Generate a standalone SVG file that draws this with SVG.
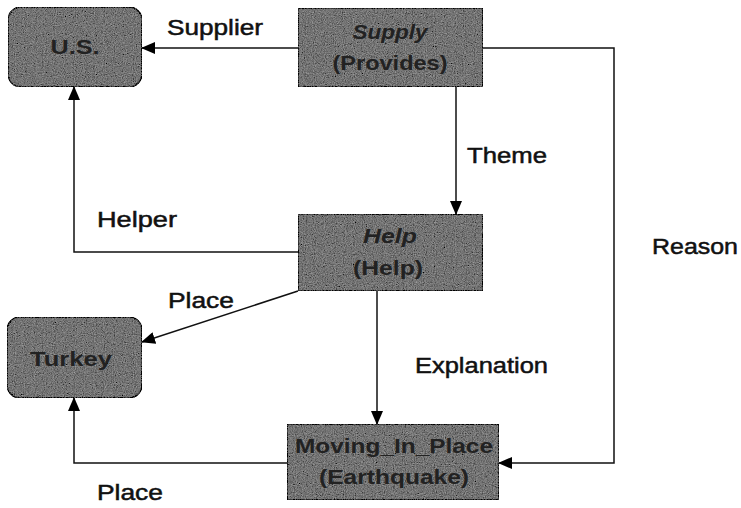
<svg xmlns="http://www.w3.org/2000/svg" width="741" height="508" viewBox="0 0 741 508">
<defs>
<marker id="arr" markerUnits="userSpaceOnUse" markerWidth="14" markerHeight="12" refX="13" refY="6" orient="auto">
<path d="M0,0 L14,6 L0,12 Z" fill="#000"/>
</marker>
<filter id="grain" x="0" y="0" width="100%" height="100%">
<feTurbulence type="fractalNoise" baseFrequency="0.9" numOctaves="2" seed="3" result="n"/>
<feColorMatrix in="n" type="matrix" values="0.33 0.33 0.33 0 0 0.33 0.33 0.33 0 0 0.33 0.33 0.33 0 0 0 0 0 0 1" result="g"/>
<feComposite in="SourceGraphic" in2="g" operator="arithmetic" k1="0" k2="1" k3="0.7" k4="-0.35" result="c"/>
<feComposite in="c" in2="SourceAlpha" operator="in"/>
</filter>
</defs>
<style>
.box{fill:#747474;stroke:#1a1a1a;stroke-width:1.5;filter:url(#grain)}
.nt{font-family:"Liberation Sans",Arial,sans-serif;font-size:21px;fill:#222;text-anchor:middle;font-weight:bold}
.lbl{font-family:"Liberation Sans",Arial,sans-serif;font-size:22px;fill:#111;stroke:#111;stroke-width:0.5}
.c{fill:none;stroke:#111;stroke-width:1.5}
.ca{fill:none;stroke:#111;stroke-width:1.5;marker-end:url(#arr)}
</style>
<rect width="741" height="508" fill="#fff"/>
<g id="connectors">
<path class="ca" d="M298,48 L142,48"/>
<path class="ca" d="M483,48 L614,48 L614,463 L499,463"/>
<path class="ca" d="M456,87 L456,214"/>
<path class="ca" d="M298,252 L74,252 L74,87"/>
<path class="ca" d="M298,291 L142,342"/>
<path class="ca" d="M377,291 L377,424"/>
<path class="ca" d="M287,463 L74,463 L74,398"/>
</g>
<g id="labels">
<text class="lbl" x="167" y="35" textLength="96" lengthAdjust="spacingAndGlyphs">Supplier</text>
<text class="lbl" x="467" y="163" textLength="80" lengthAdjust="spacingAndGlyphs">Theme</text>
<text class="lbl" x="97" y="227" textLength="80" lengthAdjust="spacingAndGlyphs">Helper</text>
<text class="lbl" x="652" y="254" textLength="86" lengthAdjust="spacingAndGlyphs">Reason</text>
<text class="lbl" x="168" y="308" textLength="66" lengthAdjust="spacingAndGlyphs">Place</text>
<text class="lbl" x="415" y="373" textLength="133" lengthAdjust="spacingAndGlyphs">Explanation</text>
<text class="lbl" x="97" y="500" textLength="66" lengthAdjust="spacingAndGlyphs">Place</text>
</g>
<g id="us">
<rect class="box" x="8" y="7" width="134" height="80" rx="13"/>
<text class="nt" x="75" y="54" textLength="49" lengthAdjust="spacingAndGlyphs">U.S.</text>
</g>
<g id="supply">
<rect class="box" x="298" y="8" width="185" height="79"/>
<text class="nt" x="390" y="39" font-style="italic" textLength="75" lengthAdjust="spacingAndGlyphs">Supply</text>
<text class="nt" x="390" y="70" textLength="115" lengthAdjust="spacingAndGlyphs">(Provides)</text>
</g>
<g id="help">
<rect class="box" x="298" y="214" width="185" height="77"/>
<text class="nt" x="390" y="243" font-style="italic" textLength="54" lengthAdjust="spacingAndGlyphs">Help</text>
<text class="nt" x="388" y="275" textLength="70" lengthAdjust="spacingAndGlyphs">(Help)</text>
</g>
<g id="turkey">
<rect class="box" x="7" y="317" width="135" height="81" rx="13"/>
<text class="nt" x="71" y="366" textLength="82" lengthAdjust="spacingAndGlyphs">Turkey</text>
</g>
<g id="moving">
<rect class="box" x="287" y="424" width="212" height="76"/>
<text class="nt" x="394" y="453" textLength="198" lengthAdjust="spacingAndGlyphs">Moving_In_Place</text>
<text class="nt" x="394" y="484" textLength="150" lengthAdjust="spacingAndGlyphs">(Earthquake)</text>
</g>
</svg>
